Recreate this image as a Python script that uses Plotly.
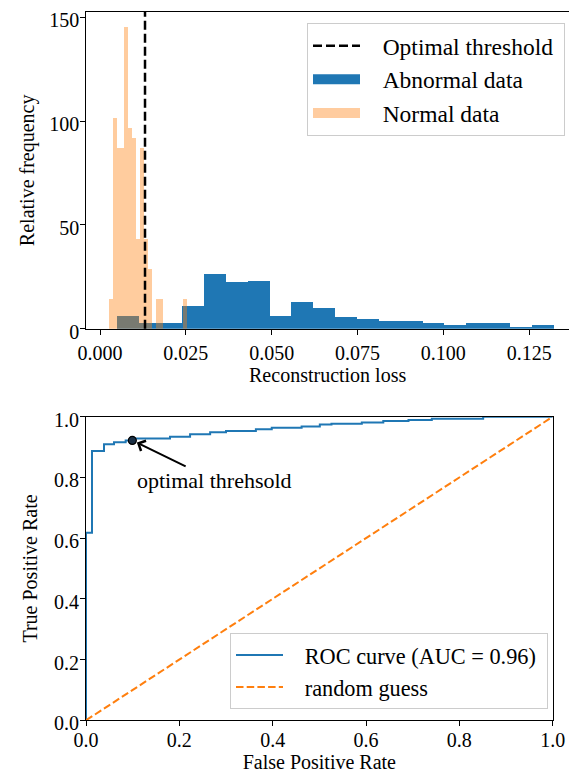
import plotly.graph_objects as go

# ---------------- data ----------------
# Histogram of reconstruction loss (density-normalised heights)
normal_start = 0.00262
normal_width = 0.001136
normal_heights = [14.4, 101.4, 87.2, 87.2, 145.2, 96.6, 92.0, 43.3, 87.2, 43.3,
                  28.8, 0.0, 14.4, 14.4, 0.0, 0.0, 0.0, 0.0, 0.0, 14.4]

abnormal_start = 0.00495
abnormal_width = 0.006363
abnormal_heights = [6.1, 2.7, 2.7, 10.9, 26.3, 22.5, 22.9, 6.1, 12.8, 10.0,
                    5.6, 4.7, 3.7, 3.7, 2.7, 1.8, 2.7, 2.7, 0.9, 1.8]

threshold = 0.0131

# ROC curve (staircase vertices)
roc_fpr = [0.0, 0.0, 0.0129, 0.0129, 0.0386, 0.0386, 0.060, 0.060, 0.085, 0.085,
           0.0993, 0.0993, 0.180, 0.180, 0.223, 0.223, 0.266, 0.266, 0.300, 0.300,
           0.364, 0.364, 0.398, 0.398, 0.462, 0.462, 0.501, 0.501, 0.526, 0.526,
           0.591, 0.591, 0.637, 0.637, 0.691, 0.691, 0.741, 0.741, 0.851, 0.851, 1.0]
roc_tpr = [0.0, 0.618, 0.618, 0.887, 0.887, 0.909, 0.909, 0.916, 0.916, 0.922,
           0.922, 0.928, 0.928, 0.934, 0.934, 0.942, 0.942, 0.949, 0.949, 0.953,
           0.953, 0.959, 0.959, 0.964, 0.964, 0.968, 0.968, 0.974, 0.974, 0.977,
           0.977, 0.981, 0.981, 0.986, 0.986, 0.989, 0.989, 0.993, 0.993, 1.0, 1.0]
random_fpr = [0.0, 1.0]
random_tpr = [0.0, 1.0]
opt_fpr = 0.0993
opt_tpr = 0.922
auc = 0.96

top_xticks = [0.0, 0.025, 0.05, 0.075, 0.1, 0.125]
top_yticks = [0, 50, 100, 150]
roc_ticks = [0.0, 0.2, 0.4, 0.6, 0.8, 1.0]

# ---------------- figure ----------------
FONT = "Liberation Serif"
OFF = 8                      # default page body margin
W, H = 577 - OFF, 773 - OFF
BLUE = "#1f77b4"
ORANGE = "#ff7f0e"
ORANGE_A = "rgba(255,127,14,0.4)"
NB = "\u00a0"

def px2fx(px):
    return (px - OFF) / W

def py2fy(py):
    return 1 - (py - OFF) / H

def lname(s):
    return NB * 3 + s + NB

normal_centers = [normal_start + normal_width * (i + 0.5) for i in range(len(normal_heights))]
abnormal_centers = [abnormal_start + abnormal_width * (i + 0.5) for i in range(len(abnormal_heights))]

fig = go.Figure()

# histogram bars
fig.add_trace(go.Bar(
    x=abnormal_centers, y=abnormal_heights, width=abnormal_width,
    marker=dict(color=BLUE, line=dict(width=0)), name="Abnormal data",
    xaxis="x", yaxis="y", showlegend=False))
fig.add_trace(go.Bar(
    x=normal_centers, y=normal_heights, width=normal_width,
    marker=dict(color=ORANGE, line=dict(width=0)), opacity=0.4,
    name="Normal data", xaxis="x", yaxis="y", showlegend=False))

fig.add_shape(type="line", xref="x", yref="y domain", x0=threshold, x1=threshold,
              y0=0, y1=1, line=dict(color="black", width=2.5, dash="9px,4px"))

# legend handles for the top panel
fig.add_trace(go.Scatter(
    x=[None], y=[None], mode="lines", name=lname("Optimal threshold"),
    line=dict(color="black", width=2.5, dash="9px,4px"),
    xaxis="x", yaxis="y", legend="legend"))
fig.add_trace(go.Scatter(
    x=[None], y=[None], mode="lines", name=lname("Abnormal data"),
    line=dict(color=BLUE, width=16),
    xaxis="x", yaxis="y", legend="legend"))
fig.add_trace(go.Scatter(
    x=[None], y=[None], mode="lines", name=lname("Normal data"),
    line=dict(color=ORANGE_A, width=16),
    xaxis="x", yaxis="y", legend="legend"))

# ROC panel
fig.add_trace(go.Scatter(
    x=roc_fpr, y=roc_tpr, mode="lines", name=lname(f"ROC curve (AUC = {auc:.2f})"),
    line=dict(color=BLUE, width=2), xaxis="x2", yaxis="y2", legend="legend2"))
fig.add_trace(go.Scatter(
    x=random_fpr, y=random_tpr, mode="lines", name=lname("random guess"),
    line=dict(color=ORANGE, width=2, dash="7.5px,3.2px"), xaxis="x2", yaxis="y2",
    legend="legend2"))
fig.add_trace(go.Scatter(
    x=[opt_fpr], y=[opt_tpr], mode="markers", showlegend=False,
    marker=dict(color="#1b2f45", size=8, line=dict(color="black", width=1.2)),
    xaxis="x2", yaxis="y2"))

fig.add_annotation(
    x=opt_fpr, y=opt_tpr, xref="x2", yref="y2", text="optimal threhsold",
    showarrow=True, ax=82, ay=40, arrowhead=4, arrowsize=1.1, arrowwidth=2,
    arrowcolor="black", standoff=5, font=dict(family=FONT, size=22, color="black"))

axis_common = dict(
    showline=True, linecolor="black", linewidth=1, mirror=True,
    ticks="outside", ticklen=5, tickwidth=1, tickcolor="black",
    showgrid=False, zeroline=False, automargin=False, ticklabeloverflow="allow",
    tickfont=dict(family=FONT, size=20, color="black"),
)

legend_common = dict(
    bgcolor="rgba(255,255,255,0.8)", bordercolor="#cccccc", borderwidth=1,
    tracegroupgap=0, itemwidth=47,
)

fig.update_layout(
    width=W, height=H,
    margin=dict(l=0, r=0, t=0, b=0),
    paper_bgcolor="white", plot_bgcolor="white",
    barmode="overlay", bargap=0,
    font=dict(family=FONT, color="black"),
    xaxis=dict(domain=[px2fx(86.3), px2fx(569)], anchor="y",
               range=[-0.0040, 0.1366], tickvals=top_xticks, tickformat=".3f",
               ticklabelstandoff=1,
               title=dict(text="Reconstruction loss", font=dict(family=FONT, size=20), standoff=2),
               **axis_common),
    yaxis=dict(domain=[py2fy(328.7), py2fy(12)], anchor="x",
               range=[0, 152.5], tickvals=top_yticks, ticklabelstandoff=-3, ticklabelshift=3,
               title=dict(text="Relative frequency", font=dict(family=FONT, size=20), standoff=9),
               **axis_common),
    xaxis2=dict(domain=[px2fx(86), px2fx(552.7)], anchor="y2",
                range=[0, 1], tickvals=roc_ticks, tickformat=".1f",
                ticklabelstandoff=-3,
                title=dict(text="False Positive Rate", font=dict(family=FONT, size=20), standoff=0),
                **axis_common),
    yaxis2=dict(domain=[py2fy(720.3), py2fy(416.7)], anchor="x2",
                range=[0, 1], tickvals=roc_ticks, tickformat=".1f",
                ticklabelstandoff=-3, ticklabelshift=3,
                title=dict(text="True Positive Rate", font=dict(family=FONT, size=20), standoff=11),
                **axis_common),
    legend=dict(x=px2fx(565), y=py2fy(23), xanchor="right", yanchor="top",
                font=dict(family=FONT, size=23.5, color="black"), **legend_common),
    legend2=dict(x=px2fx(548), y=py2fy(709), xanchor="right", yanchor="bottom",
                 font=dict(family=FONT, size=22.3, color="black"), **legend_common),
)

fig.write_html("out.html")
